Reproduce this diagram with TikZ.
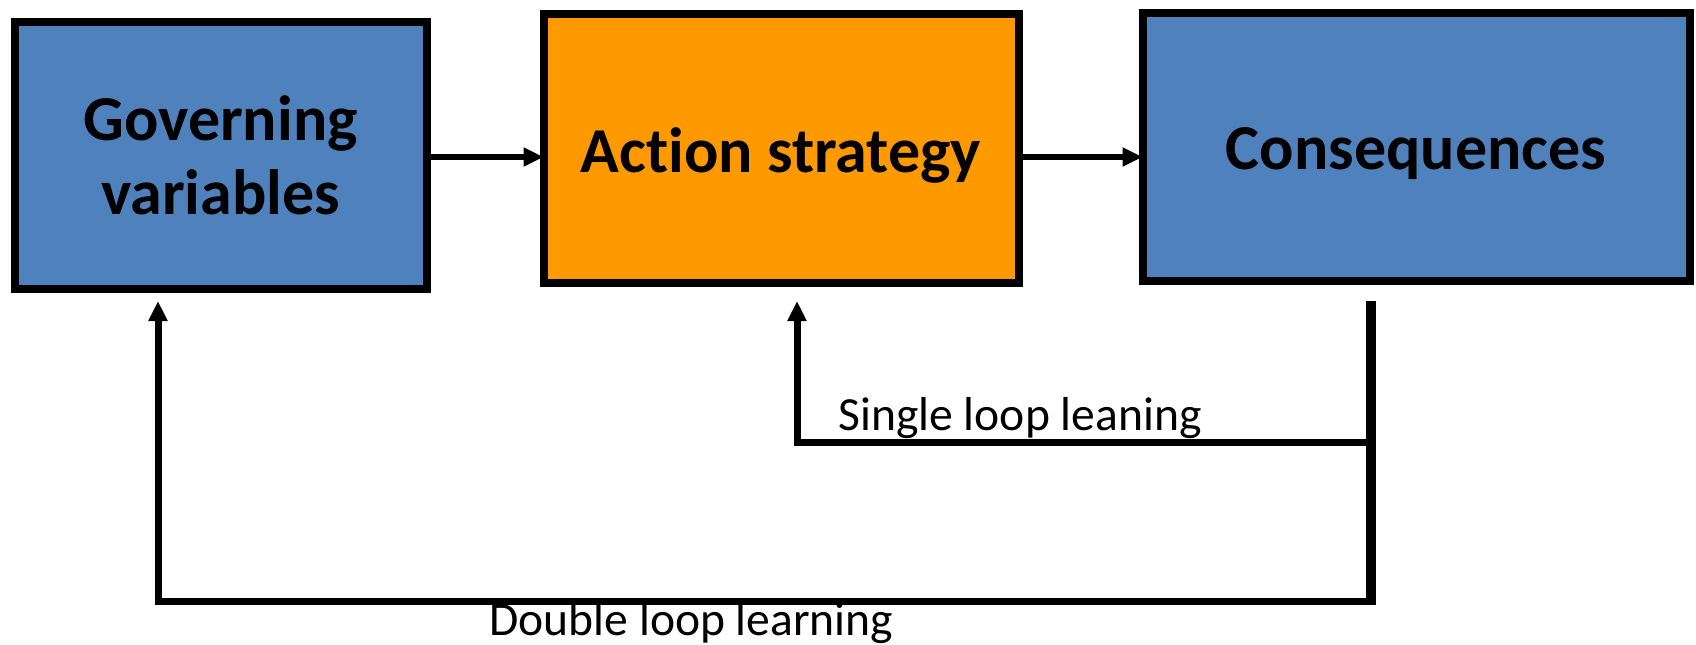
\documentclass[tikz,border=0pt]{standalone}
\usepackage{fontspec}
\setmainfont[Ligatures=NoCommon]{Carlito}
\usetikzlibrary{arrows.meta}
\definecolor{boxblue}{HTML}{4F81BD}
\definecolor{boxorange}{HTML}{FF9900}
\begin{document}
\begin{tikzpicture}[x=0.5pt,y=-0.5pt,
  box/.style={draw=black, line width=4pt, rectangle, inner sep=0pt, outer sep=0pt,
    align=center, font=\fontsize{32}{37}\selectfont\bfseries},
  arr/.style={line width=3pt, -{Triangle[length=10pt,width=9pt]}},
  fb/.style={line width=3.5pt, line join=miter},
  lbl/.style={font=\fontsize{23.8}{28}\selectfont, inner sep=0pt, anchor=base west}]
\useasboundingbox (0,0) rectangle (1696,644);
\node[box, fill=boxblue, minimum width=206pt, minimum height=133.5pt] (gov) at (220.5,155) {Governing\\variables};
\node[box, fill=boxorange, minimum width=237.5pt, minimum height=134.5pt] (act) at (781,148) {};
\node[box, fill=boxblue, minimum width=273.5pt, minimum height=134pt] (con) at (1416,146.5) {};
\node[font=\fontsize{32}{37}\selectfont\bfseries, inner sep=0pt] (actt) at ([yshift=-3.5pt]act.center) {Action strategy};
\node[font=\fontsize{32}{37}\selectfont\bfseries, inner sep=0pt] (cont) at ([yshift=-3.5pt]con.center) {Consequences};
\draw[arr] ([yshift=-1pt]gov.east) -- ([yshift=-1pt]gov.east -| act.west);
\draw[arr] ([yshift=-1pt]gov.east -| act.east) -- ([yshift=-1pt]gov.east -| con.west);
\coordinate (vtop) at (1371,301);
\coordinate (vbot) at (1371,605);
\coordinate (smid) at (1371,442);
\coordinate (dmid) at (1371,601);
\coordinate (stip) at (797,301);
\coordinate (dtip) at (158,301);
\draw[line width=5pt] (vtop) -- (vbot);
\draw[fb, -{Triangle[length=10pt,width=9pt]}] (smid) -- (smid -| stip) -- (stip);
\draw[fb, -{Triangle[length=10pt,width=9pt]}] (dmid) -- (dmid -| dtip) -- (dtip);
\node[lbl] (sl) at (838,430) {Single loop leaning};
\node[lbl] (dl) at (489,635) {Double loop learning};
\end{tikzpicture}
\end{document}
